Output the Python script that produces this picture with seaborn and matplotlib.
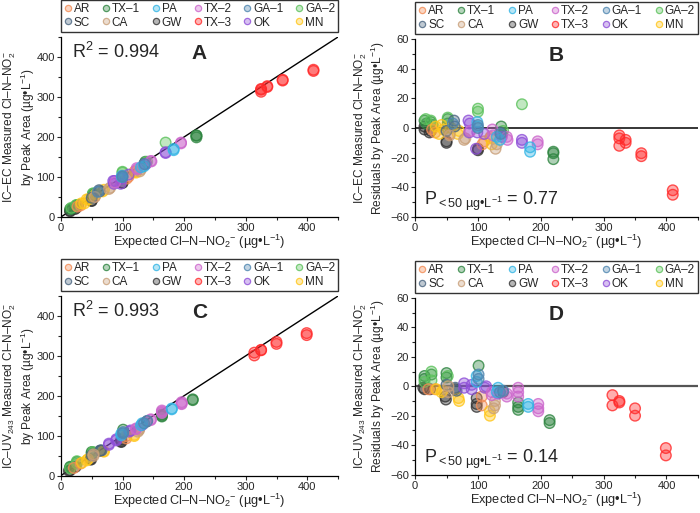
import matplotlib
matplotlib.use("Agg")
import pandas as pd
import matplotlib.pyplot as plt
import seaborn as sns
from matplotlib.lines import Line2D
from matplotlib.ticker import MultipleLocator
from matplotlib.colors import to_rgba

# sites and colours, legend order is row by row
site_order = ["AR", "TX–1", "PA", "TX–2", "GA–1", "GA–2",
              "SC", "CA", "GW", "TX–3", "OK", "MN"]
site_colors = ["#f28c55", "#2e8540", "#33b5e5", "#cc66cc", "#4f86b0", "#5cc25c",
               "#4a6580", "#c9a07a", "#333333", "#ff2a2a", "#8e4fd8", "#ffc61a"]

# IC-EC points (panels A and B)
ec_site = (["GW"] * 9 + ["TX–1"] * 11 + ["GA–2"] * 7 + ["AR"] * 6 + ["MN"] * 9
           + ["SC"] * 4 + ["CA"] * 5 + ["OK"] * 9 + ["TX–2"] * 7 + ["PA"] * 6
           + ["GA–1"] * 4 + ["TX–3"] * 9)
ec_expected = [15, 15, 23, 25, 50, 50, 100, 100, 138,
               15, 18, 25, 28, 52, 52, 137, 137, 220, 220, 220,
               17, 25, 52, 100, 100, 170, 140,
               27, 32, 55, 107, 110, 120,
               33, 38, 42, 45, 57, 68, 70, 120, 122,
               50, 62, 63, 135,
               55, 78, 80, 128, 130,
               85, 86, 87, 97, 99, 110, 138, 170, 170,
               88, 123, 124, 146, 147, 195, 195,
               99, 99, 130, 135, 183, 183,
               60, 100, 100, 136,
               325, 325, 325, 335, 335, 360, 360, 410, 410]
ec_measured = [16, 14, 20, 23, 41, 40, 85, 86, 134,
               20, 21, 29, 30, 58, 55, 138, 134, 204, 203, 199,
               23, 30, 59, 113, 111, 186, 138,
               26, 29, 51, 96, 101, 114,
               34, 34, 44, 44, 57, 64, 68, 113, 111,
               48, 67, 64, 132,
               50, 70, 73, 114, 119,
               90, 83, 90, 83, 96, 106, 132, 162, 160,
               86, 122, 119, 140, 139, 186, 184,
               100, 103, 124, 127, 170, 167,
               63, 102, 100, 132,
               320, 318, 313, 327, 325, 343, 341, 368, 365]
ec_resid = [1, -1, -3, -2, -9, -10, -15, -14, -4,
            5, 3, 4, 2, 6, 3, 1, -3, -16, -17, -21,
            6, 5, 7, 13, 11, 16, -2,
            -1, -3, -4, -11, -9, -6,
            1, -4, 2, -1, 0, -4, -2, -7, -11,
            -2, 5, 1, -3,
            -5, -8, -7, -14, -11,
            5, -3, 3, -14, -3, -4, -6, -8, -10,
            -2, -1, -5, -6, -8, -9, -11,
            1, 4, -6, -8, -13, -16,
            3, 2, 0, -4,
            -5, -7, -12, -8, -10, -17, -19, -42, -45]

# IC-UV243 points (panels C and D)
uv_site = (["GW"] * 10 + ["TX–1"] * 11 + ["GA–2"] * 4 + ["AR"] * 4 + ["MN"] * 7
           + ["SC"] * 3 + ["CA"] * 5 + ["OK"] * 7 + ["TX–2"] * 10 + ["PA"] * 6
           + ["GA–1"] * 4 + ["TX–3"] * 8)
uv_expected = [13, 15, 24, 48, 49, 64, 98, 98, 98, 140,
               15, 15, 26, 50, 50, 101, 164, 164, 164, 214, 214,
               15, 26, 26, 52,
               21, 32, 106, 106,
               34, 42, 44, 69, 70, 119, 119,
               50, 64, 66,
               53, 53, 125, 127, 127,
               78, 78, 90, 90, 111, 113, 132,
               122, 122, 146, 146, 164, 164, 164, 196, 196, 196,
               98, 98, 130, 132, 180, 180,
               101, 101, 135, 140,
               314, 314, 325, 325, 350, 350, 399, 399]
uv_measured = [12, 13, 22, 41, 40, 62, 90, 86, 84, 136,
               22, 20, 34, 59, 56, 115, 153, 150, 148, 191, 189,
               18, 36, 30, 59,
               19, 30, 99, 93,
               32, 38, 41, 61, 60, 102, 99,
               51, 63, 63,
               53, 49, 110, 117, 114,
               80, 77, 91, 88, 110, 113, 127,
               118, 116, 141, 139, 163, 160, 157, 184, 181, 179,
               105, 101, 126, 131, 168, 166,
               106, 109, 131, 137,
               308, 301, 315, 314, 335, 330, 357, 352]
uv_resid = [-1, -2, -2, -7, -9, -2, -8, -12, -14, -4,
            7, 5, 8, 9, 6, 14, -11, -14, -16, -23, -25,
            3, 10, 4, 7,
            -2, -2, -7, -13,
            -2, -4, -3, -8, -10, -17, -20,
            1, -1, -3,
            0, -4, -15, -10, -13,
            2, -1, 1, -2, -1, 0, -5,
            -4, -6, -5, -7, -1, -4, -7, -12, -15, -17,
            7, 3, -4, -1, -12, -14,
            5, 8, -4, -3,
            -6, -13, -10, -11, -15, -20, -42, -47]

r2_values = ["0.994", "0.993"]
p_values = ["0.77", "0.14"]
panel_letters = ["A", "B", "C", "D"]

sns.set_theme(style="white")
plt.rcParams["font.family"] = ["Liberation Sans", "DejaVu Sans"]
plt.rcParams["mathtext.fontset"] = "custom"
plt.rcParams["mathtext.rm"] = "Liberation Sans"
plt.rcParams["mathtext.it"] = "Liberation Sans:italic"
plt.rcParams["mathtext.bf"] = "Liberation Sans:bold"

palette = dict(zip(site_order, site_colors))
df_ec = pd.DataFrame({"site": ec_site, "expected": ec_expected,
                      "measured": ec_measured, "resid": ec_resid})
df_uv = pd.DataFrame({"site": uv_site, "expected": uv_expected,
                      "measured": uv_measured, "resid": uv_resid})

fig = plt.figure(figsize=(7.0, 5.13), dpi=100)
ax_a = fig.add_axes([0.087, 0.577, 0.396, 0.351])
ax_b = fig.add_axes([0.593, 0.577, 0.404, 0.347])
ax_c = fig.add_axes([0.087, 0.073, 0.396, 0.350])
ax_d = fig.add_axes([0.593, 0.075, 0.404, 0.344])

xlabel = "Expected Cl–N–NO$_2$$^{-}$ (µg•L$^{-1}$)"


def scatter_sites(ax, df, ycol):
    sns.scatterplot(data=df, x="expected", y=ycol, hue="site", hue_order=site_order,
                    palette=palette, s=58, linewidth=1.0, legend=False, ax=ax, zorder=3)
    coll = ax.collections[-1]
    fc = coll.get_facecolors().copy()
    ec = fc.copy()
    fc[:, 3] = 0.38
    ec[:, 3] = 0.8
    coll.set_facecolors(fc)
    coll.set_edgecolors(ec)


def site_legend(ax):
    handles = []
    for name, col in zip(site_order, site_colors):
        handles.append(Line2D([], [], ls="none", marker="o", markersize=4.5,
                              markerfacecolor=to_rgba(col, 0.35),
                              markeredgecolor=to_rgba(col, 0.8), markeredgewidth=0.9,
                              label=name))
    # matplotlib fills legend columns first, reorder to get rows
    order = [0, 6, 1, 7, 2, 8, 3, 9, 4, 10, 5, 11]
    handles = [handles[i] for i in order]
    leg = ax.legend(handles=handles, ncol=6, loc="lower left",
                    bbox_to_anchor=(0.0, 1.03, 1.0, 0.14), mode="expand",
                    fontsize=8.5, handlelength=0.7, handletextpad=0.15,
                    columnspacing=0.5, borderpad=0.25, labelspacing=0.15,
                    frameon=True, fancybox=False, borderaxespad=0.0)
    leg.get_frame().set_edgecolor("black")
    leg.get_frame().set_linewidth(1.0)


def style_axes(ax, ymajor, yminor):
    ax.set_xlim(0, 450)
    ax.xaxis.set_major_locator(MultipleLocator(100))
    ax.xaxis.set_minor_locator(MultipleLocator(50))
    ax.yaxis.set_major_locator(MultipleLocator(ymajor))
    ax.yaxis.set_minor_locator(MultipleLocator(yminor))
    ax.tick_params(which="both", direction="out", labelsize=8, width=0.8,
                   left=True, bottom=True, pad=1.5)
    ax.tick_params(which="major", length=3)
    ax.tick_params(which="minor", length=2)
    for side in ["top", "right"]:
        ax.spines[side].set_visible(False)
    for side in ["left", "bottom"]:
        ax.spines[side].set_color("black")
        ax.spines[side].set_linewidth(0.9)
    ax.set_xlabel(xlabel, fontsize=9.2, labelpad=0)
    site_legend(ax)


# A and C: measured vs expected
for ax, df, r2, letter, det in [(ax_a, df_ec, r2_values[0], panel_letters[0], "IC–EC"),
                                (ax_c, df_uv, r2_values[1], panel_letters[2], "IC–UV$_{243}$")]:
    ax.axline((0, 0), slope=1, color="black", lw=1.0, zorder=2)
    scatter_sites(ax, df, "measured")
    ax.set_ylim(0, 450)
    style_axes(ax, 100, 50)
    ax.set_ylabel(det + " Measured Cl–N–NO$_2^{-}$\nby Peak Area (µg•L$^{-1}$)",
                  fontsize=8.6, linespacing=1.0)
    ax.yaxis.set_label_coords(-0.088, 0.5)
    ax.text(0.04, 0.97, "R$^2$ = " + r2, transform=ax.transAxes, fontsize=13,
            ha="left", va="top")
    ax.text(0.5, 0.96, letter, transform=ax.transAxes, fontsize=15,
            fontweight="bold", ha="center", va="top")

# B and D: residuals
zero_line = [("black", 1.1), ("#555555", 1.6)]
for i, (ax, df, pv, letter, det) in enumerate(
        [(ax_b, df_ec, p_values[0], panel_letters[1], "IC–EC"),
         (ax_d, df_uv, p_values[1], panel_letters[3], "IC–UV$_{243}$")]):
    ax.axhline(0, color=zero_line[i][0], lw=zero_line[i][1], zorder=2)
    scatter_sites(ax, df, "resid")
    ax.set_ylim(-60, 60)
    style_axes(ax, 20, 10)
    ax.set_ylabel(det + " Measured Cl–N–NO$_2^{-}$\nResiduals by Peak Area (µg•L$^{-1}$)",
                  fontsize=8.6, linespacing=1.0)
    ax.yaxis.set_label_coords(-0.098, 0.5)
    ax.text(0.03, 0.02, "P$_{<50\\ \\mathregular{µg•L^{-1}}}$ = " + pv,
            transform=ax.transAxes, fontsize=13, ha="left", va="bottom")
    ax.text(0.5, 0.96, letter, transform=ax.transAxes, fontsize=15,
            fontweight="bold", ha="center", va="top")

fig.savefig("out.png", dpi=100)
